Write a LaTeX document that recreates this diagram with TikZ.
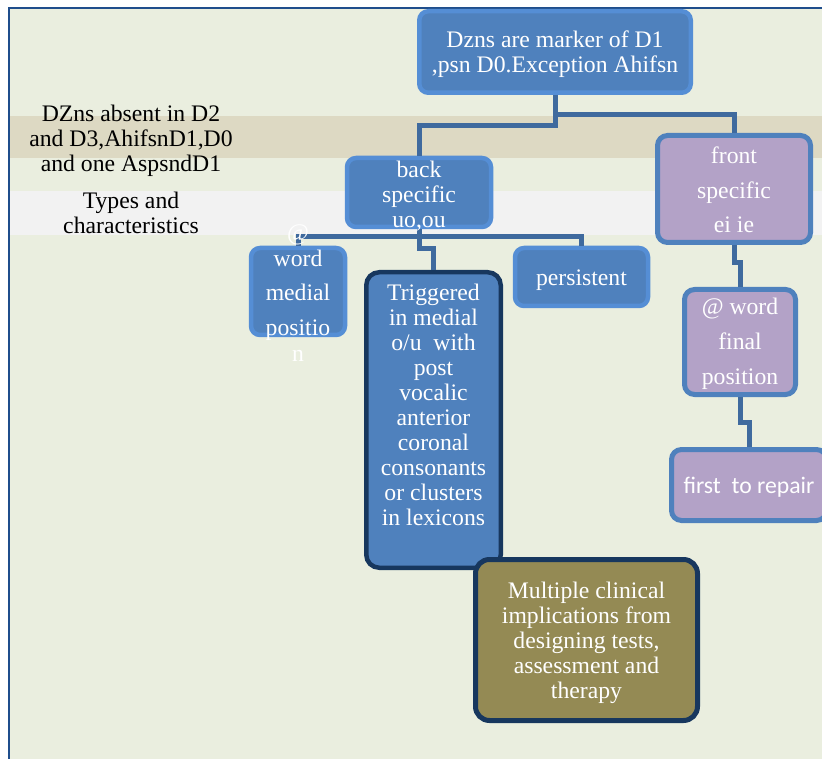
\documentclass[tikz,border=0pt]{standalone}
\usepackage{fontspec}
\setmainfont{Liberation Serif}
\newfontfamily\calfont{Carlito}
\definecolor{paper}{HTML}{EAEEDF}
\definecolor{tanband}{HTML}{DDD9C3}
\definecolor{greyband}{HTML}{F2F2F2}
\definecolor{frameblue}{HTML}{1F4E8C}
\definecolor{boxblue}{HTML}{4F81BD}
\definecolor{rimblue}{HTML}{558ED5}
\definecolor{navy}{HTML}{17375E}
\definecolor{lilac}{HTML}{B3A2C7}
\definecolor{olive}{HTML}{948A54}
\definecolor{linkblue}{HTML}{3F6A9E}
\tikzset{
  txt/.style={font=\fontsize{23.7}{25}\selectfont, align=center, inner sep=0pt},
  bluebox/.style={fill=boxblue, draw=rimblue, line width=4.5pt, rounded corners=9pt, inner sep=0pt},
  lilacbox/.style={fill=lilac, draw=boxblue, line width=5pt, rounded corners=10pt, inner sep=0pt},
  deepbox/.style={fill=boxblue, draw=navy, line width=4.5pt, rounded corners=13pt, inner sep=0pt},
  olivebox/.style={fill=olive, draw=navy, line width=5pt, rounded corners=14pt, inner sep=0pt},
  link/.style={draw=linkblue, line width=5pt, line join=miter},
}
\begin{document}
\begin{tikzpicture}[x=1pt,y=-1pt]
\useasboundingbox (0,0) rectangle (822,759);
% page background and bands
\fill[white] (0,0) rectangle (822,759);
\fill[paper] (9,9) rectangle (822,759);
\fill[tanband] (10,116) rectangle (822,158);
\fill[greyband] (10,191) rectangle (822,235);
\draw[frameblue, line width=2pt] (8.5,759) -- (8.5,8.5) -- (822,8.5);

% boxes
\node[bluebox, minimum width=271.5pt, minimum height=81.5pt] (top) at (555,52) {};
\node[bluebox, minimum width=144pt, minimum height=69pt] (back) at (419,192.5) {};
\node[lilacbox, minimum width=153pt, minimum height=107pt] (front) at (734,189) {};
\node[bluebox, minimum width=94pt, minimum height=87pt] (word) at (298,291.5) {};
\node[deepbox, minimum width=134.5pt, minimum height=295.5pt] (trig) at (433.5,420) {};
\node[bluebox, minimum width=133pt, minimum height=58pt] (persist) at (581.5,277) {};
\node[lilacbox, minimum width=111pt, minimum height=105pt] (final) at (740,342) {};
\node[lilacbox, minimum width=155pt, minimum height=71pt] (repair) at (749,485) {};
\node[olivebox, minimum width=222pt, minimum height=161pt] (multi) at (586.5,640) {};

% connectors
\draw[link] (top.south) -- ++(0,31) -| (back.north);
\draw[link] (top.south) ++(0,20) -| (front.north);
\draw[link] (word.north) -- ++(0,-9) -| (persist.north);
\draw[link] (back.south) -- ++(0,19) -| (trig.north);
\draw[link] (front.south) -- ++(0,18) -| (final.north);
\draw[link] (final.south) -- ++(0,25) -| (repair.north);

% box texts
\node[txt, text=white] (toptext) at (555,54)
  {Dzns are marker of D1\\,psn D0.Exception Ahifsn};
\node[txt, text=white] (backtext) at (419,196)
  {back\\specific\\uo,ou};
\node[txt, text=white, font=\fontsize{23.7}{34.5}\selectfont] (fronttext) at (734,190)
  {front\\specific\\ei ie};
\node[txt, text=white] (persisttext) at (581.5,280) {persistent};
\node[txt, text=white, font=\fontsize{23.7}{35}\selectfont] (finaltext) at (740,344)
  {@ word\\final\\position};
\node[text=white, inner sep=0pt, font=\calfont\fontsize{23.7}{25}\selectfont] (repairtext) at (749,487)
  {first~ to repair};
\node[txt, text=white] (multitext) at (586.5,643)
  {Multiple clinical\\implications from\\designing tests,\\assessment and\\therapy};
\node[txt, text=white, anchor=north] (trigtext) at (433.5,283.5)
  {Triggered\\in medial\\o/u~ with\\post\\vocalic\\anterior\\coronal\\consonants\\or clusters\\in lexicons};
\node[txt, text=white, font=\fontsize{23.7}{26}\selectfont] (wordtext) at (298,293)
  {@\\word\\[8pt]medial\\[9pt]positio\\n};

% side captions
\node[txt, text=black] (absent) at (131,141)
  {DZns absent in D2\\and D3,AhifsnD1,D0\\and one AspsndD1};
\node[txt, text=black] (types) at (131,213)
  {Types and\\characteristics};
\end{tikzpicture}
\end{document}
